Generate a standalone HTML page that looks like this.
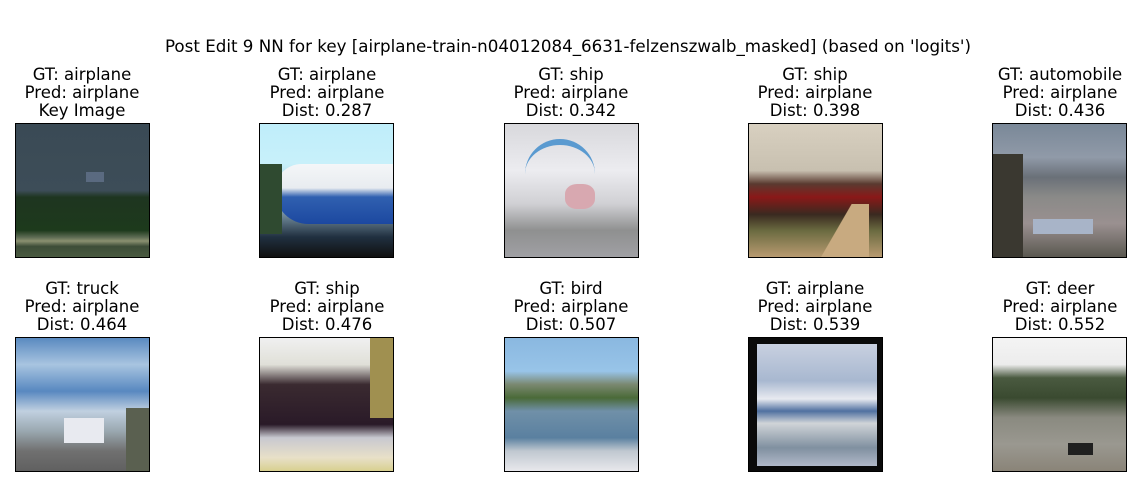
<!DOCTYPE html>
<html><head><meta charset="utf-8"><style>
body{margin:0;width:1136px;height:486px;background:#fff;position:relative;overflow:hidden;font-family:"DejaVu Sans","Liberation Sans",sans-serif;color:#000}
.t{position:absolute;left:0;width:1136px;text-align:center;top:36px;font-size:16.7px}
.lab{position:absolute;width:260px;text-align:center;font-size:16.5px;line-height:17.8px}
.im{position:absolute;width:133px;height:133px;border:1px solid #000;overflow:hidden}
.im div{position:absolute}
</style></head><body>
<div class="t">Post Edit 9 NN for key [airplane-train-n04012084_6631-felzenszwalb_masked] (based on 'logits')</div>

<div class="lab" style="left:-48px;top:66px">GT: airplane<br>Pred: airplane<br>Key Image</div>
<div class="lab" style="left:197px;top:66px">GT: airplane<br>Pred: airplane<br>Dist: 0.287</div>
<div class="lab" style="left:441px;top:66px">GT: ship<br>Pred: airplane<br>Dist: 0.342</div>
<div class="lab" style="left:685px;top:66px">GT: ship<br>Pred: airplane<br>Dist: 0.398</div>
<div class="lab" style="left:930px;top:66px">GT: automobile<br>Pred: airplane<br>Dist: 0.436</div>

<div class="lab" style="left:-48px;top:280px">GT: truck<br>Pred: airplane<br>Dist: 0.464</div>
<div class="lab" style="left:197px;top:280px">GT: ship<br>Pred: airplane<br>Dist: 0.476</div>
<div class="lab" style="left:441px;top:280px">GT: bird<br>Pred: airplane<br>Dist: 0.507</div>
<div class="lab" style="left:685px;top:280px">GT: airplane<br>Pred: airplane<br>Dist: 0.539</div>
<div class="lab" style="left:930px;top:280px">GT: deer<br>Pred: airplane<br>Dist: 0.552</div>

<!-- row 1 -->
<div class="im" style="left:15px;top:123px;background:linear-gradient(#3a4a55 0%,#3d4d58 50%,#1e3520 55%,#1d3a1c 80%,#5b6a52 85%,#8a9070 88%,#3d4d38 92%,#4a5a40 100%)">
<div style="left:70px;top:48px;width:18px;height:10px;background:#5a6a80"></div></div>

<div class="im" style="left:259px;top:123px;background:linear-gradient(#bfeefa 0%,#c8f0fa 30%,#9ab8c8 60%,#203040 85%,#101010 100%)">
<div style="left:15px;top:40px;width:125px;height:60px;border-radius:40px 10px 10px 50px;background:linear-gradient(#f4f6f8 0%,#e8ecf0 40%,#3060b0 55%,#1c48a0 100%)"></div>
<div style="left:0;top:40px;width:22px;height:70px;background:#2f4a30"></div></div>

<div class="im" style="left:504px;top:123px;background:linear-gradient(#d8d8dc 0%,#ececf0 35%,#d0d0d4 60%,#8f9090 80%,#a0a0a4 100%)">
<div style="left:20px;top:15px;width:70px;height:70px;border-radius:50%;border-top:6px solid #5a9ad0;box-sizing:border-box"></div>
<div style="left:60px;top:60px;width:30px;height:25px;background:#d8a8b0;border-radius:40%"></div></div>

<div class="im" style="left:748px;top:123px;background:linear-gradient(#d8d0c0 0%,#c8c0b0 35%,#5a3a30 45%,#8a1818 55%,#3a2a20 68%,#6a6a40 80%,#b89a70 100%)">
<div style="left:70px;top:80px;width:50px;height:53px;background:linear-gradient(120deg,transparent 40%,#c8aa80 41%)"></div></div>

<div class="im" style="left:992px;top:123px;background:linear-gradient(#7a8898 0%,#909aa8 25%,#6a7078 40%,#8a8a88 55%,#9a9090 75%,#5a5850 100%)">
<div style="left:0;top:30px;width:30px;height:103px;background:#3a3830"></div>
<div style="left:40px;top:95px;width:60px;height:15px;background:#a8b4c8"></div></div>

<!-- row 2 -->
<div class="im" style="left:15px;top:337px;background:linear-gradient(#5a8ac0 0%,#a8c4e0 20%,#5888c0 40%,#c0d0e0 55%,#9aa8b0 70%,#707070 85%,#606060 100%)">
<div style="left:48px;top:80px;width:40px;height:25px;background:#e8eaf0"></div>
<div style="left:110px;top:70px;width:23px;height:63px;background:#5a6050"></div></div>

<div class="im" style="left:259px;top:337px;background:linear-gradient(#f0f0f0 0%,#e0e0d8 20%,#3a2a30 35%,#2a1a28 65%,#c8c8d0 75%,#e8e0c8 90%,#d8d090 100%)">
<div style="left:110px;top:0;width:23px;height:80px;background:#a09050"></div></div>

<div class="im" style="left:504px;top:337px;background:linear-gradient(#8ab8e0 0%,#98c4e8 25%,#7a8870 35%,#4a6a38 45%,#7090a8 55%,#5a80a0 75%,#c0c8d0 85%,#e8e8ec 100%)"></div>

<div class="im" style="left:748px;top:337px;background:#0a0a0a">
<div style="left:8px;top:6px;width:120px;height:122px;background:linear-gradient(#c8d0e0 0%,#a8b8d0 30%,#e8eaf0 45%,#5070a0 55%,#d0d4d8 65%,#8090a0 85%,#b0b8c8 100%)"></div></div>

<div class="im" style="left:992px;top:337px;background:linear-gradient(#f4f4f4 0%,#ececec 20%,#4a5a40 30%,#3a4a30 45%,#8a8a80 60%,#9a9890 80%,#8a8478 100%)">
<div style="left:75px;top:105px;width:25px;height:12px;background:#202020"></div></div>
</body></html>
